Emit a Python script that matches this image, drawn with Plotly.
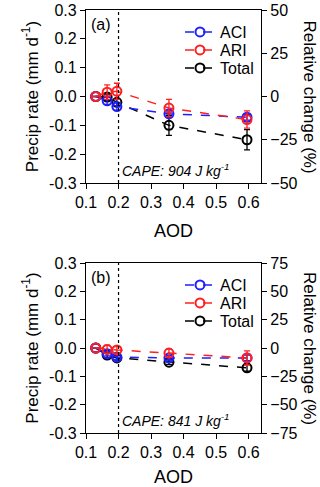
import plotly.graph_objects as go

aod = [0.13, 0.165, 0.195, 0.355, 0.595]

# Panel (a)
a_aci = [0.0, -0.015, -0.035, -0.060, -0.072]
a_aci_err = [0.0, 0.012, 0.012, 0.010, 0.010]
a_ari = [0.0, 0.015, 0.018, -0.040, -0.080]
a_ari_err = [0.0, 0.025, 0.028, 0.030, 0.030]
a_tot = [0.0, -0.002, -0.020, -0.100, -0.150]
a_tot_err = [0.0, 0.010, 0.012, 0.035, 0.035]

# Panel (b)
b_aci = [0.0, -0.020, -0.032, -0.035, -0.035]
b_aci_err = [0.0, 0.008, 0.008, 0.008, 0.010]
b_ari = [0.0, -0.005, -0.007, -0.018, -0.035]
b_ari_err = [0.0, 0.015, 0.012, 0.015, 0.025]
b_tot = [0.0, -0.025, -0.035, -0.050, -0.070]
b_tot_err = [0.0, 0.008, 0.008, 0.008, 0.012]

left_ticks = [-0.3, -0.2, -0.1, 0.0, 0.1, 0.2, 0.3]
left_labels = ["-0.3", "-0.2", "-0.1", "0.0", "0.1", "0.2", "0.3"]
x_ticks = [0.1, 0.2, 0.3, 0.4, 0.5, 0.6]
x_labels = ["0.1", "0.2", "0.3", "0.4", "0.5", "0.6"]
a_right_ticks = [-50, -25, 0, 25, 50]
b_right_ticks = [-75, -50, -25, 0, 25, 50, 75]

names = ["ACI", "ARI", "Total"]
colors = ["#1f1fff", "#ff1f1f", "#000000"]

FONT = "Liberation Sans, Arial, sans-serif"

fig = go.Figure()

xdom = [86/320, 261/320]
ydom_a = [1 - 183/487, 1 - 10/487]
ydom_b = [1 - 433/487, 1 - 263/487]

panels = [
    ("x", "y", 0, ydom_a, [a_aci, a_ari, a_tot], [a_aci_err, a_ari_err, a_tot_err]),
    ("x2", "y3", 3, ydom_b, [b_aci, b_ari, b_tot], [b_aci_err, b_ari_err, b_tot_err]),
]

legend_layouts = {}
for xa, ya, loff, ydom, ys, errs in panels:
    for idx in [2, 0, 1]:
        k = loff + idx + 1
        lname = "legend" if k == 1 else f"legend{k}"
        fig.add_trace(go.Scatter(
            x=aod, y=ys[idx], name=names[idx], mode="lines+markers",
            xaxis=xa, yaxis=ya, legend=lname,
            line=dict(color=colors[idx], dash="dash", width=1.5),
            marker=dict(symbol="circle-open", size=9, color=colors[idx], line=dict(width=2, color=colors[idx])),
            error_y=dict(type="data", array=errs[idx], color=colors[idx], thickness=1.3, width=3),
        ))
        row_y = ydom[1] - (22 + 18 * idx) / 487
        legend_layouts[lname] = dict(
            x=180/320, y=row_y, xanchor="left", yanchor="middle", bgcolor="rgba(0,0,0,0)",
            font=dict(family=FONT, size=16, color="black"), itemwidth=30, borderwidth=0)

fig.add_trace(go.Scatter(x=[], y=[], xaxis="x", yaxis="y2", showlegend=False))
fig.add_trace(go.Scatter(x=[], y=[], xaxis="x2", yaxis="y4", showlegend=False))

axcommon = dict(showgrid=False, zeroline=False, showline=True, linecolor="black", linewidth=1.3,
                ticks="outside", ticklen=5, tickcolor="black", tickwidth=1.3, automargin=False,
                tickfont=dict(family=FONT, size=16, color="black"))

xcommon = dict(axcommon, range=[0.1, 0.638], tickvals=x_ticks, ticktext=x_labels, mirror=True,
               title=dict(text="AOD", font=dict(family=FONT, size=18, color="black"), standoff=14))

ytitle = dict(text="Precip rate (mm d<sup>-1</sup>)", font=dict(family=FONT, size=17, color="black"), standoff=6)

fig.update_layout(
    width=320, height=487,
    margin=dict(l=0, r=0, t=0, b=0),
    plot_bgcolor="white", paper_bgcolor="white",
    font=dict(family=FONT, color="black"),
    xaxis=dict(xcommon, domain=xdom, anchor="y"),
    xaxis2=dict(xcommon, domain=xdom, anchor="y3"),
    yaxis=dict(axcommon, domain=ydom_a, range=[-0.3, 0.3], tickvals=left_ticks, ticktext=left_labels,
               anchor="x", title=ytitle),
    yaxis2=dict(axcommon, domain=ydom_a, range=[-50, 50], tickvals=a_right_ticks, overlaying="y", side="right",
                anchor="x"),
    yaxis3=dict(axcommon, domain=ydom_b, range=[-0.3, 0.3], tickvals=left_ticks, ticktext=left_labels,
                anchor="x2", title=ytitle),
    yaxis4=dict(axcommon, domain=ydom_b, range=[-75, 75], tickvals=b_right_ticks, overlaying="y3", side="right",
                anchor="x2"),
    showlegend=True,
    **legend_layouts,
)

for xr, yr in [("x", "y"), ("x2", "y3")]:
    fig.add_shape(type="line", xref=xr, yref=yr, x0=0.2, x1=0.2, y0=-0.3, y1=0.3,
                  line=dict(color="black", width=1.2, dash="dot"))

for xr, yr, lab, cape, ydom in [("x", "y", "(a)", "904", ydom_a), ("x2", "y3", "(b)", "841", ydom_b)]:
    fig.add_annotation(xref=xr, yref=yr, x=0.11, y=0.3, text=lab, showarrow=False,
                       xanchor="left", yanchor="top", font=dict(family=FONT, size=16), yshift=-4)
    fig.add_annotation(xref=xr, yref=yr, x=0.205, y=-0.3, text=f"<i>CAPE: {cape} J kg<sup>-1</sup></i>",
                       showarrow=False, xanchor="left", yanchor="bottom", font=dict(family=FONT, size=14), yshift=2)
    fig.add_annotation(xref="paper", yref="paper", x=309/320, y=(ydom[0] + ydom[1]) / 2,
                       text="Relative change (%)", textangle=90, showarrow=False,
                       xanchor="center", yanchor="middle", font=dict(family=FONT, size=17))

fig.write_html("out.html", config={"displayModeBar": False},
               post_script="document.body.style.margin='0';document.body.style.overflow='hidden';")
